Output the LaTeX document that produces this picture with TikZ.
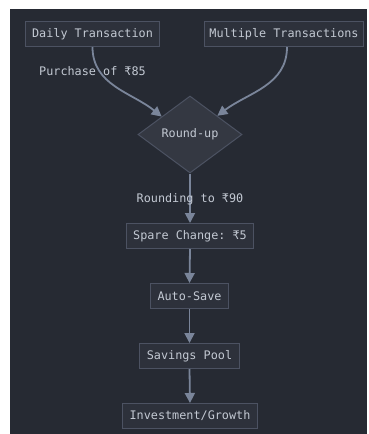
\documentclass[tikz,border=0pt]{standalone}
\usepackage{fontspec}
\setmonofont{DejaVu Sans Mono}
\usetikzlibrary{arrows.meta,shapes.geometric,calc}
\definecolor{bgc}{HTML}{262A33}
\definecolor{nodefill}{HTML}{2D313B}
\definecolor{nodeline}{HTML}{4C5262}
\definecolor{txt}{HTML}{C3C9D3}
\definecolor{edgec}{HTML}{7A859A}
\definecolor{diafill}{HTML}{343842}
\tikzset{
  x=1pt,y=-1pt,
  every node/.style={font=\ttfamily\fontsize{11.8}{14}\selectfont, text=txt},
  box/.style={draw=nodeline, fill=nodefill, line width=1pt, minimum height=25pt, inner xsep=7pt, inner ysep=0pt},
  dia/.style={diamond, draw=nodeline, fill=diafill, line width=1pt, minimum width=104pt, minimum height=77pt, inner sep=0pt},
  flow/.style={draw=edgec, line width=1.8pt, -{Triangle[length=10pt,width=10pt]}},
  lbl/.style={inner sep=1pt}
}
\begin{document}
\begin{tikzpicture}
\useasboundingbox (0,0) rectangle (368,434);
\fill[white] (0,0) rectangle (368,434);
\fill[bgc] (10,9) rectangle (367,434);
\begin{scope}
\clip (10,9) rectangle (367,434);
\node[box] (daily) at (92.5,34) {Daily Transaction};
\node[box, inner xsep=4.5pt] (multi) at (284,34) {Multiple Transactions};
\node[dia] (round) at (190,134.5) {Round-up};
\node[box] (spare) at (190,236) {Spare Change: ₹5};
\node[box] (auto) at (189.5,296) {Auto-Save};
\node[box] (pool) at (189.5,356) {Savings Pool};
\node[box] (inv) at (190,416) {Investment/Growth};
\coordinate (tipL) at ($(round.west)!0.46!(round.north)$);
\coordinate (tipR) at ($(round.north)!0.52!(round.east)$);
\coordinate (mstart) at ($(multi.south)+(3,0)$);
\draw[flow] (daily.south) to[out=-90,in=141] (tipL);
\draw[flow] (mstart) to[out=-90,in=37] (tipR);
\node[lbl] (lab1) at (92.5,71) {Purchase of ₹85};
\draw[flow] (round.south) -- (spare.north);
\node[lbl] (lab2) at (190,199) {Rounding to ₹90};
\draw[flow] (spare.south) -- (auto.north);
\draw[flow] (auto.south) -- (pool.north);
\draw[flow] (pool.south) -- (inv.north);
\end{scope}
\end{tikzpicture}
\end{document}
